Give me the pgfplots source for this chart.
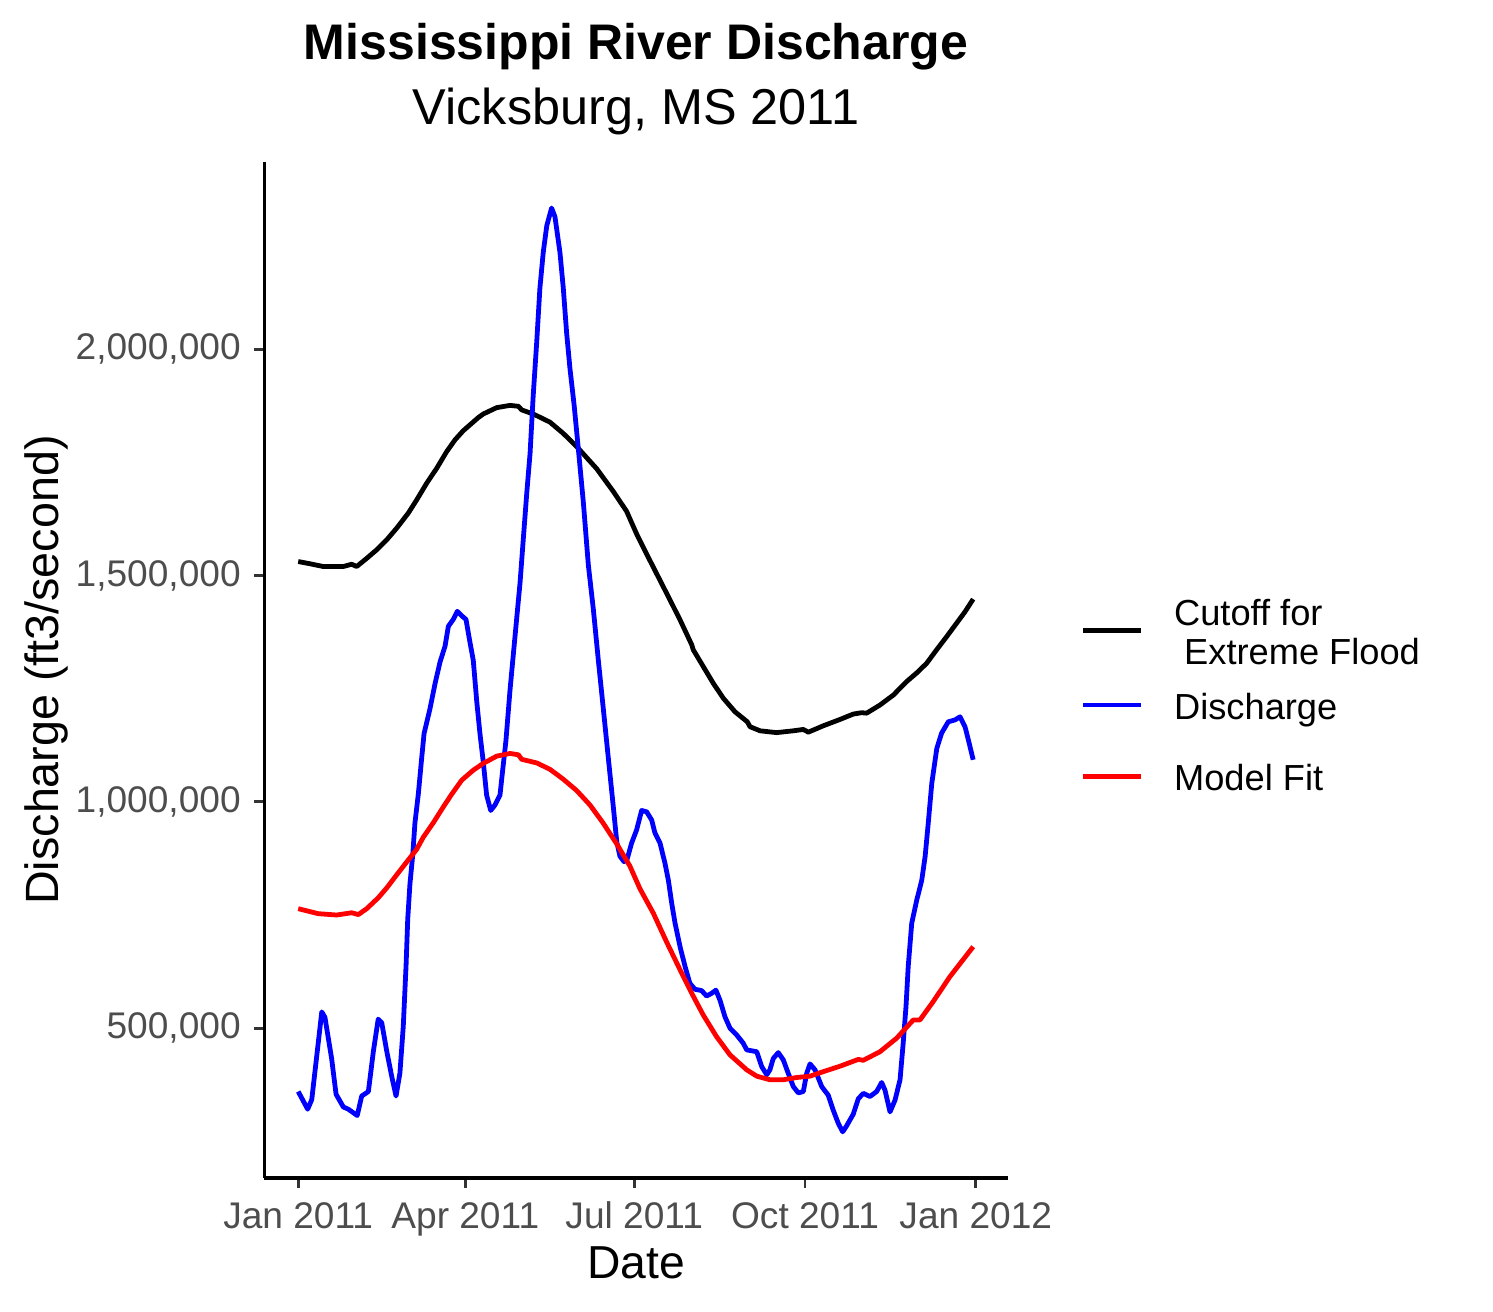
\documentclass[border=0pt]{standalone}
\usepackage{fontspec}
\setmainfont{Liberation Sans}
\usepackage{pgfplots}
\usepackage{pgfplotstable}
\pgfplotsset{compat=1.18}
\definecolor{tickgray}{HTML}{4D4D4D}
\definecolor{tickmark}{HTML}{333333}

\pgfplotstableread{
day val
0 1531000
6.4 1526000
13.5 1520000
24.3 1520000
28.8 1525000
31.5 1520000
36.9 1538000
42.3 1557000
47.7 1579000
53.1 1605000
59.3 1638000
63.8 1667000
69.2 1704000
74.6 1737000
80.0 1774000
84.5 1800000
88.9 1820000
97.0 1849000
99.7 1857000
106.9 1871000
114.1 1876000
118.6 1874000
120.4 1866000
126.6 1857000
135.6 1839000
142.8 1814000
150.0 1785000
160.8 1736000
169.7 1686000
176.9 1642000
182.3 1592000
189.5 1533000
196.7 1475000
200.3 1446000
205.7 1402000
212.0 1347000
212.8 1336000
218.2 1299000
223.6 1262000
229.0 1229000
235.3 1199000
241.9 1177000
243.4 1166000
248.8 1157000
257.7 1153000
266.7 1157000
272.1 1160000
274.8 1154000
282.8 1168000
291.8 1182000
299.0 1194000
303.5 1197000
306.2 1196000
313.4 1214000
320.6 1236000
327.8 1266000
333.2 1285000
338.5 1306000
343.9 1336000
349.3 1365000
354.7 1395000
359.2 1420000
363.6 1448000
}\cutoff

\pgfplotstableread{
day val
0 360000
5.1 321000
7.3 342000
12.7 536000
14.4 524000
18.0 433000
20.4 354000
24.3 326000
27.0 321000
31.8 307000
34.2 350000
37.8 360000
40.5 449000
43.1 520000
45.0 512000
47.7 449000
50.4 393000
52.7 350000
54.8 401000
56.6 504000
58.1 638000
59.0 741000
60.2 819000
61.7 883000
62.9 954000
64.7 1017000
66.5 1096000
67.8 1151000
69.2 1175000
71.0 1206000
73.7 1261000
76.4 1309000
79.1 1344000
80.9 1388000
83.5 1403000
85.7 1421000
88.1 1411000
90.4 1403000
92.2 1360000
94.3 1313000
96.2 1221000
97.9 1151000
99.7 1088000
101.5 1015000
103.7 981000
106.0 993000
108.7 1015000
110.2 1072000
111.9 1135000
114.1 1247000
116.8 1366000
119.5 1484000
121.3 1583000
123.1 1681000
124.9 1770000
126.6 1898000
128.5 2017000
130.2 2135000
132.0 2214000
133.9 2273000
136.5 2312000
138.3 2293000
141.0 2214000
142.8 2135000
144.6 2036000
146.4 1957000
148.6 1878000
150.9 1780000
153.6 1662000
156.3 1523000
159.0 1425000
161.6 1316000
164.3 1208000
167.0 1099000
169.7 991000
171.6 912000
173.3 880000
175.5 868000
177.1 872000
179.6 909000
182.3 938000
185.0 981000
187.7 978000
190.4 960000
192.2 931000
194.9 909000
197.6 864000
199.4 827000
201.2 776000
203.0 732000
205.7 680000
208.4 636000
211.0 599000
213.7 586000
217.3 583000
220.0 571000
222.7 577000
225.0 584000
227.2 562000
229.9 525000
232.6 500000
236.2 485000
239.7 467000
241.6 452000
247.0 448000
249.7 415000
252.4 397000
254.1 408000
255.9 433000
258.6 446000
261.3 430000
264.0 400000
266.7 371000
269.4 357000
272.1 360000
273.9 400000
275.7 421000
278.4 408000
282.0 371000
285.5 352000
288.2 319000
290.9 290000
293.3 271000
295.4 284000
299.0 310000
301.7 344000
304.4 356000
308.0 349000
311.6 360000
314.3 380000
316.1 363000
318.8 315000
321.5 341000
324.2 386000
325.9 467000
327.4 547000
328.6 636000
330.5 732000
333.2 783000
335.9 827000
337.7 879000
339.4 953000
341.3 1041000
344.0 1118000
346.6 1152000
350.2 1177000
353.8 1181000
356.5 1188000
359.2 1166000
361.0 1137000
363.6 1093000
}\discharge

\pgfplotstableread{
day val
0 764000
10.8 753000
20.7 750000
28.8 755000
32.4 751000
36.9 764000
43.1 788000
47.7 810000
53.1 839000
58.4 867000
63.8 895000
67.4 922000
72.8 954000
78.2 989000
82.7 1017000
88.1 1048000
94.3 1070000
99.7 1085000
106.9 1101000
114.1 1107000
118.6 1104000
120.4 1094000
128.5 1086000
135.6 1072000
142.8 1050000
150.0 1025000
157.2 993000
164.3 953000
171.6 907000
178.7 858000
184.1 808000
191.3 754000
198.5 690000
205.7 629000
212.0 577000
218.2 529000
225.4 481000
232.6 441000
241.6 408000
247.0 394000
254.1 386000
261.3 386000
268.5 391000
275.7 394000
282.9 404000
291.9 416000
301.7 431000
304.4 429000
313.4 448000
322.4 478000
331.3 518000
334.9 518000
342.1 559000
351.1 614000
363.6 680000
}\modelfit

\begin{document}
\begin{tikzpicture}
\useasboundingbox (0,0) rectangle (358.32pt,314.88pt);
\begin{axis}[
  at={(63.46pt,32.16pt)}, anchor=south west,
  scale only axis, width=178.39pt, height=243.84pt,
  xmin=-18.2, xmax=382.2, ymin=169000, ymax=2413800,
  axis x line*=bottom, axis y line*=left,
  axis line style={-, line width=0.8pt, black},
  every outer x axis line/.append style={-},
  every outer y axis line/.append style={-},
  tick align=outside, major tick length=2.4pt,
  every tick/.style={line width=0.7pt, color=tickmark},
  xtick={0,90,181,273,365},
  xticklabels={Jan 2011,Apr 2011,Jul 2011,Oct 2011,Jan 2012},
  ytick={500000,1000000,1500000,2000000},
  yticklabels={{500,000},{1,000,000},{1,500,000},{2,000,000}},
  scaled y ticks=false, scaled x ticks=false,
  /pgf/number format/assume math mode=true,
  tick label style={font=\fontsize{8.9}{10}\selectfont, text=tickgray},
  xticklabel style={anchor=base, inner sep=0pt, yshift=-9.8pt},
  yticklabel style={anchor=east, inner sep=0pt, xshift=-3.1pt},
  xlabel={Date}, ylabel={Discharge (ft3/second)},
  every axis x label/.style={at={(axis description cs:0.5,0)}, anchor=base, yshift=-24.24pt, font=\fontsize{11.1}{13}\selectfont},
  every axis y label/.style={at={(axis description cs:0,0.5)}, rotate=90, anchor=base, yshift=49.46pt, font=\fontsize{11.2}{13}\selectfont},
  title={Mississippi River Discharge},
  every axis title/.style={at={(axis description cs:0.5,1)}, anchor=base, yshift=24.48pt, font=\fontsize{12}{14}\selectfont\bfseries},
  extra description/.code={
    \node[anchor=base, font=\fontsize{12.1}{14}\selectfont] at ([yshift=8.88pt]axis description cs:0.5,1) {Vicksburg, MS 2011};
  },
]
\addplot[black, line width=1.15pt, line join=round] table[x=day,y=val] {\cutoff};
\addplot[blue, line width=1.15pt, line join=round] table[x=day,y=val] {\discharge};
\addplot[red, line width=1.15pt, line join=round] table[x=day,y=val] {\modelfit};
\end{axis}
% legend
\draw[black, line width=1.15pt] (259.99pt,163.51pt) -- (273.77pt,163.51pt);
\draw[blue, line width=1.15pt] (259.99pt,145.68pt) -- (273.77pt,145.68pt);
\draw[red, line width=1.15pt] (259.99pt,128.47pt) -- (273.77pt,128.47pt);
\begin{scope}[every node/.style={anchor=base west, inner sep=0pt, font=\fontsize{8.7}{10}\selectfont}]
\node at (281.59pt,164.71pt) {Cutoff for};
\node at (281.59pt,155.28pt) {\mbox{}\ Extreme Flood};
\node at (281.59pt,142.25pt) {Discharge};
\node at (281.59pt,125.11pt) {Model Fit};
\end{scope}
\end{tikzpicture}
\end{document}
